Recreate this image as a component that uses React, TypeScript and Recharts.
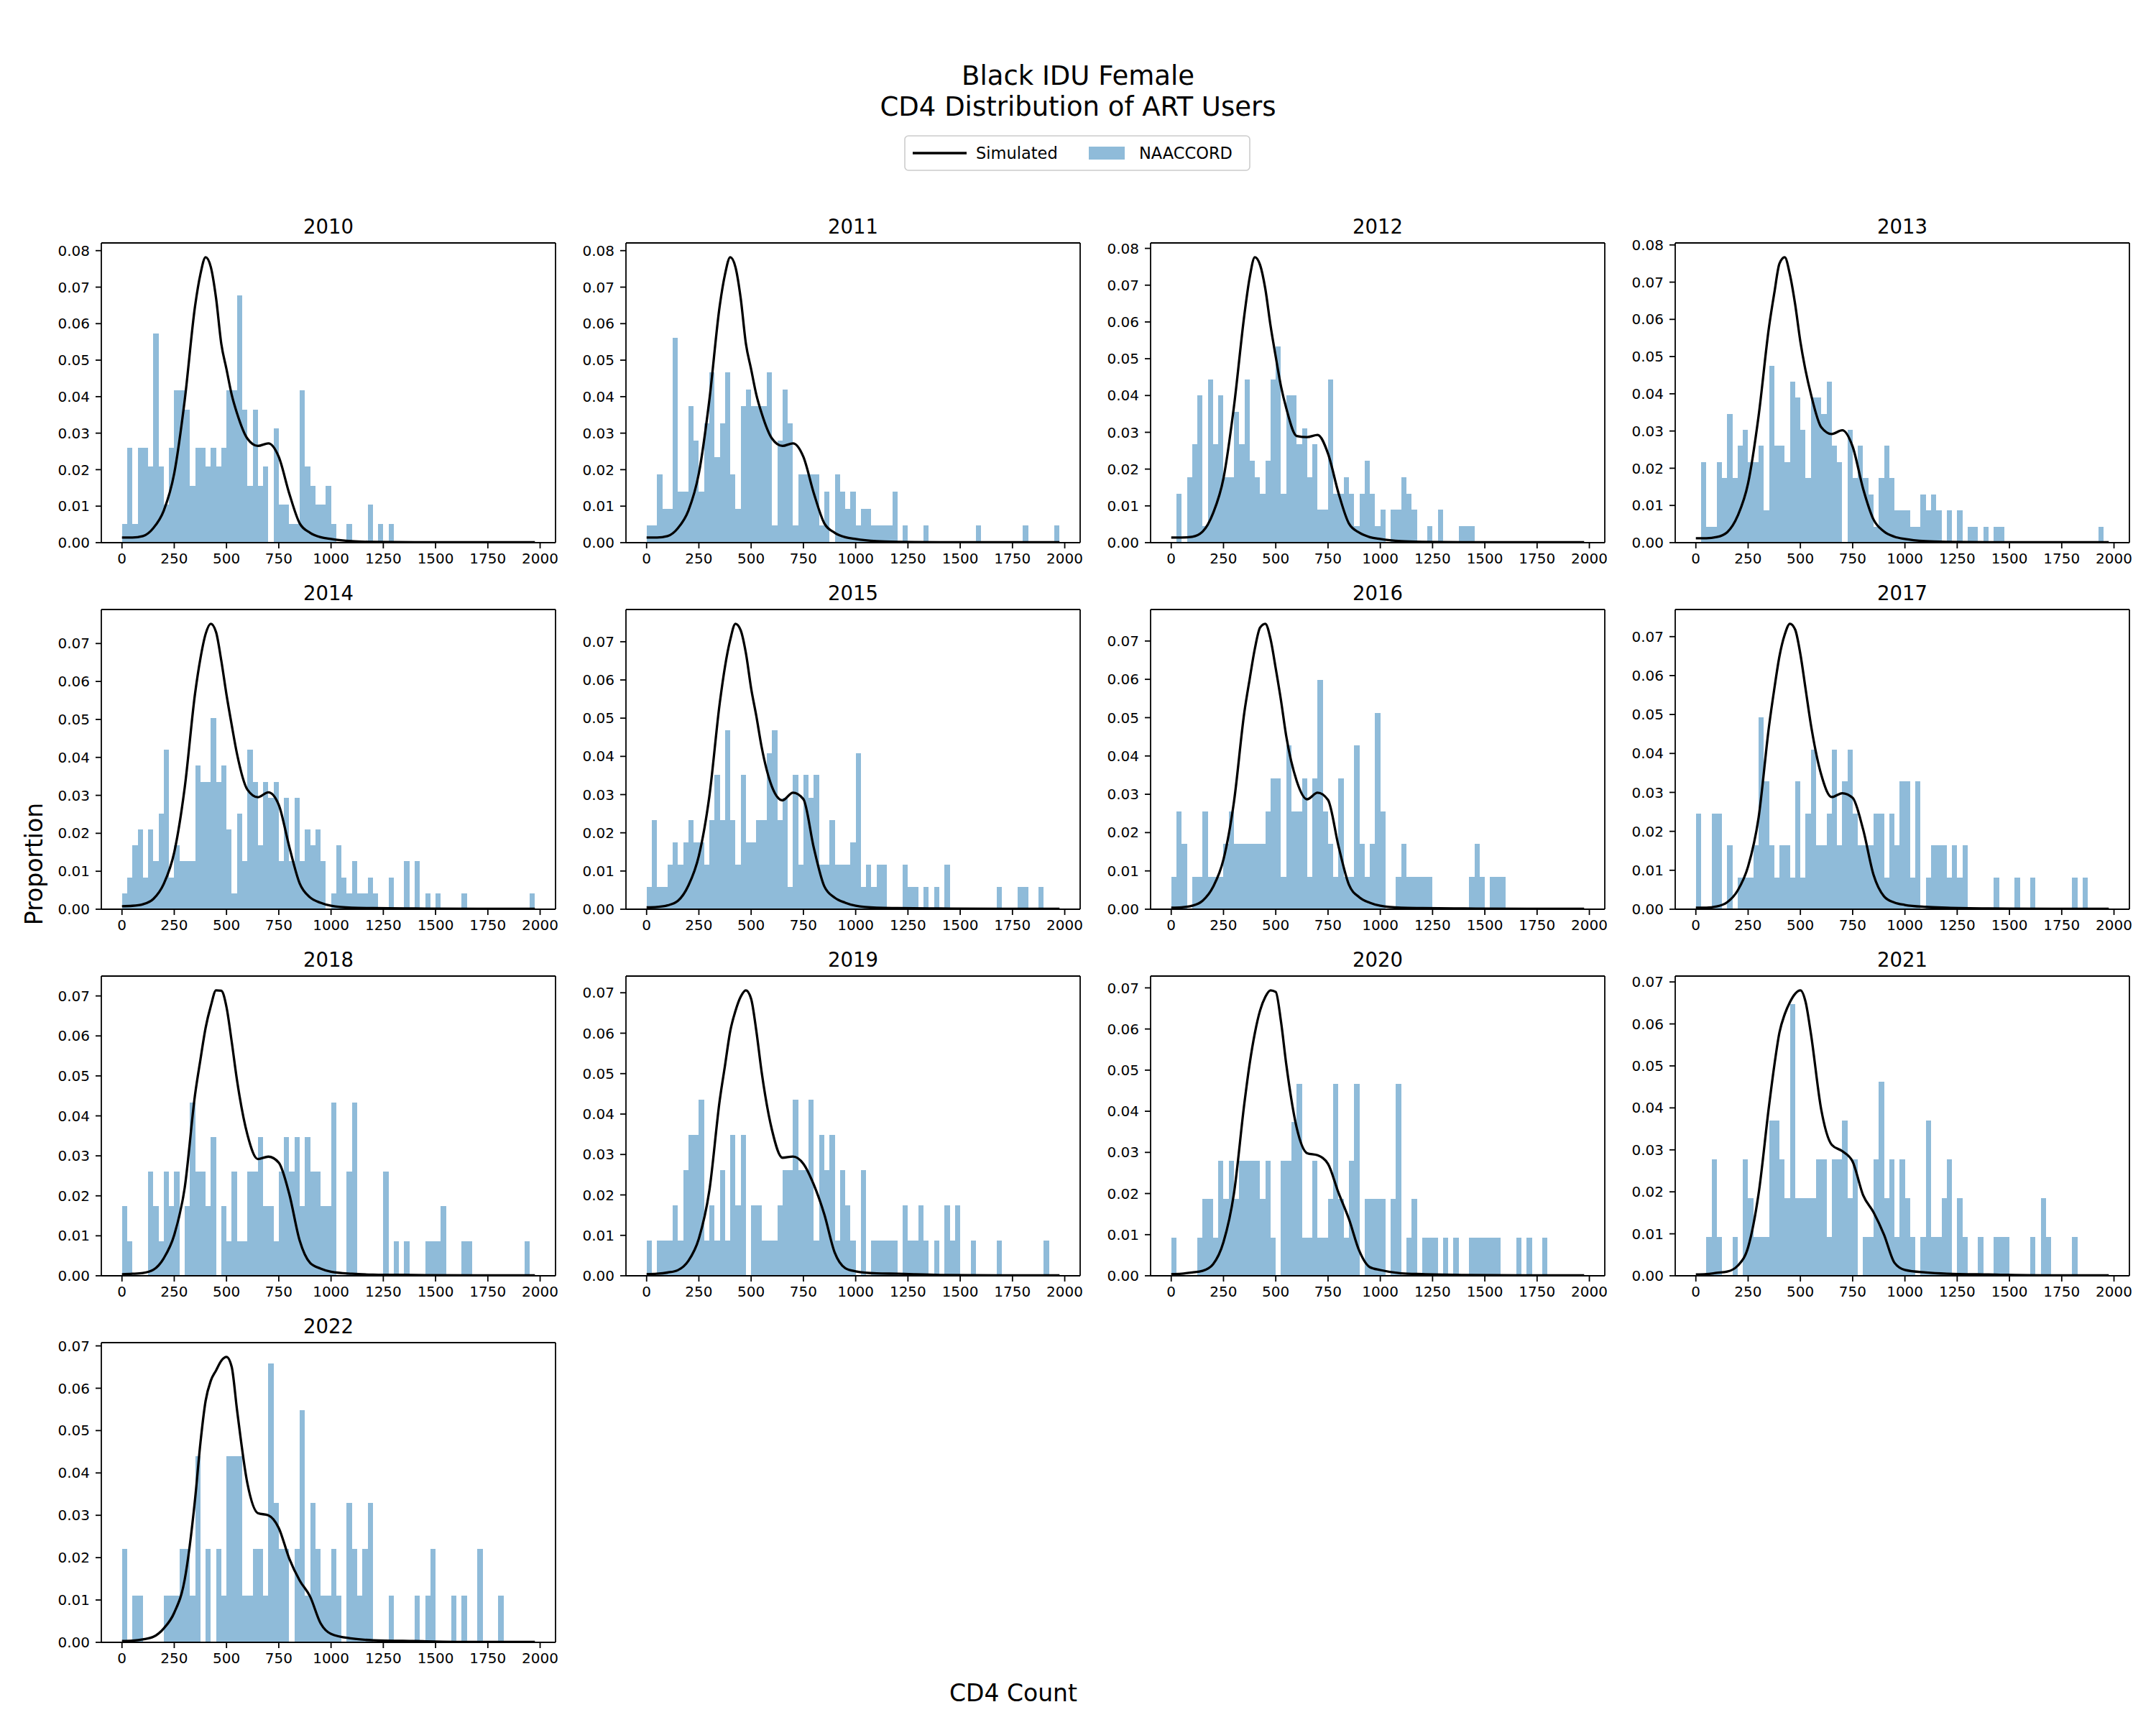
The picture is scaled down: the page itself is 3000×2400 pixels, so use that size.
import React from 'react';
import { ComposedChart, Bar, Line, XAxis, YAxis } from 'recharts';

const FONT = '"DejaVu Sans", sans-serif';
const BAR_COLOR = '#1f77b4';

const YEARS = ['2010', '2011', '2012', '2013', '2014', '2015', '2016', '2017', '2018', '2019', '2020', '2021', '2022'];

// histogram bins: 25 cells wide, 0..1975
const BIN_WIDTH = 25;
const BIN_CENTERS = Array.from({ length: 79 }, (_, i) => i * BIN_WIDTH + BIN_WIDTH / 2);
const X_TICKS = [0, 250, 500, 750, 1000, 1250, 1500, 1750, 2000];
const X_DOMAIN: [number, number] = [-98.75, 2073.75];

// CD4 values where the simulated curve is sampled
const SIM_X = [0, 50, 100, 150, 200, 250, 300, 350, 375, 400, 425, 450, 475, 500, 525, 550, 600, 650, 700, 750, 800, 850, 900, 950, 1000, 1100, 1200, 1400, 1700, 1975];

// NAACCORD observed proportions per bin
const NAACCORD_2010 = [
  .0052, .026, .0052, .026, .026, .0208, .0573, .0208, .0104, .026,
  .0417, .0417, .0365, .0156, .026, .026, .0208, .026, .0208, .026,
  .0417, .0417, .0677, .0365, .0156, .0365, .0156, .0208, 0, .0313,
  .0104, .0104, .0052, .0052, .0417, .0208, .0156, .0104, .0104, .0156,
  .0052, 0, 0, .0052, 0, 0, 0, .0104, 0, .0052,
  0, .0052, 0, 0, 0, 0, 0, 0, 0, 0,
  0, 0, 0, 0, 0, 0, 0, 0, 0, 0,
  0, 0, 0, 0, 0, 0, 0, 0, 0,
];
const NAACCORD_2011 = [
  .0047, .0047, .0187, .0093, .0093, .0561, .014, .014, .0374, .028,
  .014, .0327, .0467, .0234, .0327, .0467, .0187, .0093, .0374, .042,
  .0374, .0374, .0374, .0467, .0047, .028, .042, .0327, .0047, .0187,
  .0187, .0187, .0187, .0047, .014, 0, .0187, .014, .0093, .014,
  .0047, .0093, .0093, .0047, .0047, .0047, .0047, .014, 0, .0047,
  0, 0, 0, .0047, 0, 0, 0, 0, 0, 0,
  0, 0, 0, .0047, 0, 0, 0, 0, 0, 0,
  0, 0, .0047, 0, 0, 0, 0, 0, .0047,
];
const NAACCORD_2012 = [
  0, .0133, 0, .0178, .0267, .04, .0044, .0444, .0267, .04,
  .0178, .0178, .0356, .0267, .0444, .0222, .0178, .0133, .0222, .0444,
  .0533, .0133, .04, .04, .0267, .0311, .0178, .0267, .0089, .0089,
  .0444, .0133, .0133, .0178, .0133, .0044, .0133, .0222, .0133, .0044,
  .0089, 0, .0089, .0089, .0178, .0133, .0089, 0, 0, .0044,
  0, .0089, 0, 0, 0, .0044, .0044, .0044, 0, 0,
  0, 0, 0, 0, 0, 0, 0, 0, 0, 0,
  0, 0, 0, 0, 0, 0, 0, 0, 0,
];
const NAACCORD_2013 = [
  0, .0216, .0043, .0043, .0216, .0173, .0346, .0173, .026, .0303,
  .0216, .0216, .026, .0087, .0476, .026, .026, .0216, .0433, .039,
  .0303, .0173, .039, .039, .0346, .0433, .026, .0216, 0, .0303,
  .0173, .026, .0173, .013, .0043, .0173, .026, .0173, .0087, .0087,
  .0087, .0043, .0043, .013, .0087, .013, .0087, 0, .0087, 0,
  .0087, 0, .0043, .0043, 0, .0043, 0, .0043, .0043, 0,
  0, 0, 0, 0, 0, 0, 0, 0, 0, 0,
  0, 0, 0, 0, 0, 0, 0, .0043, 0,
];
const NAACCORD_2014 = [
  .0042, .0084, .0168, .021, .0084, .021, .0126, .0252, .042, .0084,
  .0168, .0126, .0126, .0126, .0378, .0336, .0336, .0504, .0336, .0378,
  .021, .0042, .0252, .0126, .042, .0336, .0168, .0336, .0294, .0336,
  .0126, .0294, .0126, .0294, .0126, .021, .0168, .021, .0126, 0,
  .0042, .0168, .0084, .0042, .0126, .0042, .0042, .0084, .0042, 0,
  0, .0084, 0, 0, .0126, 0, .0126, 0, .0042, 0,
  .0042, 0, 0, 0, 0, .0042, 0, 0, 0, 0,
  0, 0, 0, 0, 0, 0, 0, 0, .0042,
];
const NAACCORD_2015 = [
  .0058, .0234, .0058, .0058, .0117, .0175, .0117, .0175, .0234, .0175,
  .0175, .0117, .0234, .0351, .0234, .0468, .0234, .0117, .0351, .0175,
  .0175, .0234, .0234, .0409, .0468, .0234, .0292, .0058, .0351, .0117,
  .0351, .0292, .0351, .0117, .0117, .0234, .0117, .0117, .0117, .0175,
  .0409, .0058, .0117, .0058, .0117, .0117, 0, 0, 0, .0117,
  .0058, .0058, 0, .0058, 0, .0058, 0, .0117, 0, 0,
  0, 0, 0, 0, 0, 0, 0, .0058, 0, 0,
  0, .0058, .0058, 0, 0, .0058, 0, 0, 0,
];
const NAACCORD_2016 = [
  .0085, .0256, .0171, 0, .0085, .0085, .0256, .0085, .0085, .0085,
  .0171, .0256, .0171, .0171, .0171, .0171, .0171, .0171, .0256, .0342,
  .0342, .0085, .0427, .0256, .0256, .0342, .0085, .0342, .0598, .0256,
  .0171, .0085, .0342, .0085, .0085, .0427, .0171, .0085, .0171, .0513,
  .0256, 0, 0, .0085, .0171, .0085, .0085, .0085, .0085, .0085,
  0, 0, 0, 0, 0, 0, 0, .0085, .0171, .0085,
  0, .0085, .0085, .0085, 0, 0, 0, 0, 0, 0,
  0, 0, 0, 0, 0, 0, 0, 0, 0,
];
const NAACCORD_2017 = [
  .0246, 0, 0, .0246, .0246, 0, .0164, 0, .0082, .0082,
  .0082, .0164, .0492, .0328, .0164, .0082, .0164, .0164, .0082, .0328,
  .0082, .0246, .041, .0164, .0164, .0246, .041, .0164, .0328, .041,
  .0246, .0164, .0164, .0164, .0246, .0246, .0082, .0246, .0164, .0328,
  .0328, .0082, .0328, 0, .0082, .0164, .0164, .0164, .0082, .0164,
  .0082, .0164, 0, 0, 0, 0, 0, .0082, 0, 0,
  0, .0082, 0, 0, .0082, 0, 0, 0, 0, 0,
  0, 0, .0082, 0, .0082, 0, 0, 0, 0,
];
const NAACCORD_2018 = [
  .0174, .0087, 0, 0, 0, .026, .0174, .0087, .026, .0174,
  .026, 0, .0174, .0434, .026, .026, .0174, .0347, 0, .0174,
  .0087, .026, .0087, .0087, .026, .026, .0347, .0174, .0174, .0087,
  .026, .0347, .026, .0347, .0174, .0347, .026, .026, .0174, .0174,
  .0434, 0, 0, .026, .0434, 0, 0, 0, 0, 0,
  .026, 0, .0087, 0, .0087, 0, 0, 0, .0087, .0087,
  .0087, .0174, 0, 0, 0, .0087, .0087, 0, 0, 0,
  0, 0, 0, 0, 0, 0, 0, .0087, 0,
];
const NAACCORD_2019 = [
  .0087, 0, .0087, .0087, .0087, .0174, .0087, .0261, .0348, .0348,
  .0435, .0087, .0174, .0087, .0261, .0087, .0348, .0174, .0348, 0,
  .0174, .0174, .0087, .0087, .0087, .0174, .0261, .0261, .0435, .0261,
  .0261, .0435, .0087, .0348, .0261, .0348, .0087, .0261, .0174, .0087,
  0, .0261, 0, .0087, .0087, .0087, .0087, .0087, 0, .0174,
  .0087, .0087, .0174, .0087, 0, .0087, 0, .0174, .0087, .0174,
  0, 0, .0087, 0, 0, 0, 0, .0087, 0, 0,
  0, 0, 0, 0, 0, 0, .0087, 0, 0,
];
const NAACCORD_2020 = [
  .0093, 0, 0, 0, 0, .0093, .0187, .0187, .0093, .028,
  .0187, .028, .0187, .028, .028, .028, .028, .0187, .028, .0093,
  0, .028, .028, .0374, .0467, .0093, .0093, .028, .0093, .0093,
  .0187, .0467, .0187, .0093, .028, .0467, 0, .0187, .0187, .0187,
  .0187, 0, .0187, .0467, 0, .0093, .0187, 0, .0093, .0093,
  .0093, 0, .0093, 0, .0093, 0, 0, .0093, .0093, .0093,
  .0093, .0093, .0093, 0, 0, 0, .0093, 0, .0093, 0,
  0, .0093, 0, 0, 0, 0, 0, 0, 0,
];
const NAACCORD_2021 = [
  0, 0, .0093, .0278, .0093, 0, 0, .0093, 0, .0278,
  .0185, .0093, .0093, .0093, .037, .037, .0278, .0185, .0648, .0185,
  .0185, .0185, .0185, .0278, .0278, .0093, .0278, .0278, .037, .0185,
  .0278, 0, .0093, .0093, .0278, .0463, .0185, .0278, .0093, .0278,
  .0185, .0093, 0, .0093, .037, .0093, .0093, .0185, .0278, 0,
  .0185, .0093, 0, 0, .0093, 0, 0, .0093, .0093, .0093,
  0, 0, 0, 0, .0093, 0, .0185, .0093, 0, 0,
  0, 0, .0093, 0, 0, 0, 0, 0, 0,
];
const NAACCORD_2022 = [
  .022, 0, .011, .011, 0, 0, 0, 0, .011, .011,
  .011, .022, .022, .011, .044, 0, .022, 0, .022, .011,
  .044, .044, .044, .011, .011, .022, .022, .011, .0659, .033,
  .022, .022, 0, .022, .0549, .011, .033, .022, .011, .011,
  .022, .011, 0, .033, .022, .011, .022, .033, 0, 0,
  0, .011, 0, 0, 0, 0, .011, 0, .011, .022,
  0, 0, 0, .011, 0, .011, 0, 0, .022, 0,
  0, 0, .011, 0, 0, 0, 0, 0, 0,
];

// simulated CD4 distribution, one value per SIM_X point
const SIM_2010 = [.0014, .0014, .0018, .004, .0088, .019, .039, .065, .0735, .0782, .0755, .067, .0545, .0475, .0405, .0355, .0285, .0265, .0272, .0235, .0135, .0053, .0027, .0015, .001, .0004, .0002, .0001, .0001, .0001];
const SIM_2011 = [.0014, .0014, .0018, .004, .0088, .019, .039, .065, .0735, .0782, .0755, .067, .0545, .0475, .0405, .0355, .0285, .0265, .0272, .0235, .0135, .0053, .0027, .0015, .001, .0004, .0002, .0001, .0001, .0001];
const SIM_2012 = [.0014, .0014, .0016, .003, .008, .0175, .037, .062, .072, .0776, .0755, .069, .059, .0505, .0425, .0366, .029, .0287, .0293, .0242, .0135, .0052, .0027, .0015, .001, .0004, .0002, .0001, .0001, .0001];
const SIM_2013 = [.0012, .0012, .0015, .0028, .0072, .016, .034, .058, .067, .075, .0767, .072, .064, .054, .0462, .04, .031, .0292, .0302, .0258, .0145, .0062, .003, .0016, .001, .0004, .0002, .0001, .0001, .0001];
const SIM_2014 = [.0008, .0009, .0013, .0027, .0067, .015, .032, .057, .066, .0725, .0752, .073, .0655, .0565, .0485, .041, .0315, .0295, .0308, .0275, .0165, .0068, .0031, .0017, .0009, .0004, .0003, .0002, .0001, .0001];
const SIM_2015 = [.0005, .0006, .001, .0022, .0062, .014, .0295, .054, .0635, .0705, .0747, .073, .067, .0578, .0505, .0425, .032, .0285, .0305, .0288, .016, .006, .003, .0017, .0009, .0004, .0003, .0002, .0001, .0001];
const SIM_2016 = [.0004, .0005, .0009, .0022, .0058, .013, .028, .0515, .06, .068, .0735, .0745, .0705, .0628, .0545, .0452, .0335, .0287, .0304, .0285, .0165, .0064, .0031, .0017, .0009, .0004, .0003, .0002, .0001, .0001];
const SIM_2017 = [.0004, .0004, .0007, .0018, .0048, .011, .0235, .047, .0565, .065, .0705, .0733, .0718, .0655, .0565, .0475, .0345, .0288, .0298, .0286, .0205, .0088, .0033, .0017, .0011, .0006, .0004, .0002, .0001, .0001];
const SIM_2018 = [.0004, .0005, .0007, .0015, .0044, .0102, .022, .0455, .054, .062, .0675, .0714, .0713, .0672, .0585, .049, .0353, .0292, .0298, .0283, .0205, .0088, .0032, .0018, .001, .0005, .0003, .0002, .0001, .0001];
const SIM_2019 = [.0004, .0005, .0008, .0014, .0037, .0092, .021, .0435, .052, .0605, .0655, .069, .0706, .0685, .0605, .0505, .036, .0292, .0295, .0277, .0225, .0152, .0057, .0019, .0011, .0006, .0005, .0002, .0001, .0001];
const SIM_2020 = [.0004, .0005, .0008, .0012, .0028, .0082, .02, .042, .0515, .059, .0645, .0678, .0694, .069, .0618, .0515, .036, .0298, .0293, .0272, .0202, .0138, .006, .0021, .0014, .0006, .0004, .0002, .0001, .0001];
const SIM_2021 = [.0003, .0004, .0007, .001, .0024, .0068, .0195, .0405, .05, .058, .0623, .0652, .0672, .068, .0652, .0578, .0395, .0312, .0297, .0272, .0192, .0151, .0098, .0031, .0014, .0008, .0005, .0003, .0001, .0001];
const SIM_2022 = [.0003, .0004, .0007, .0013, .0033, .007, .0148, .034, .047, .057, .0618, .0642, .0665, .0674, .065, .055, .0375, .0305, .03, .027, .0198, .0146, .0108, .0045, .002, .0009, .0005, .0003, .0001, .0001];

const OBSERVED = [NAACCORD_2010, NAACCORD_2011, NAACCORD_2012, NAACCORD_2013, NAACCORD_2014, NAACCORD_2015, NAACCORD_2016, NAACCORD_2017, NAACCORD_2018, NAACCORD_2019, NAACCORD_2020, NAACCORD_2021, NAACCORD_2022];
const SIMULATED = [SIM_2010, SIM_2011, SIM_2012, SIM_2013, SIM_2014, SIM_2015, SIM_2016, SIM_2017, SIM_2018, SIM_2019, SIM_2020, SIM_2021, SIM_2022];

// grid geometry (page pixels)
const COL_X = [141, 871, 1601, 2331];
const ROW_Y = [338, 848, 1358, 1868];
const PLOT_W = 632;
const PLOT_H = 417;
const Y_AXIS_W = 100;
const TOP_PAD = 40;
const RIGHT_PAD = 4;
const X_AXIS_H = 44;
const SPINE = 1.8;

const BAR_PX = (BIN_WIDTH * PLOT_W) / (X_DOMAIN[1] - X_DOMAIN[0]) - 0.01;

const tickStyle = { fontSize: 20, fill: '#000', fontFamily: FONT };
const spineStyle = { stroke: '#000', strokeWidth: SPINE };

// pixel-snapped bars so neighbouring bins meet without seams
function HistBar(props: any) {
  const { x, y, width, height } = props;
  if (!height || height <= 0) return <g />;
  return (
    <rect
      x={x}
      y={y}
      width={width}
      height={height}
      fill={BAR_COLOR}
      fillOpacity={0.5}
      shapeRendering="crispEdges"
    />
  );
}

function Panel({ hist, sim, left, top }: { hist: number[]; sim: number[]; left: number; top: number }) {
  const rows = BIN_CENTERS.map((x, i) => ({ x, p: hist[i] }));
  const simRows = SIM_X.map((x, i) => ({ x, y: sim[i] }));
  const yMax = Math.max(...hist, ...sim) * 1.05;
  const yTicks: number[] = [];
  for (let i = 0; i * 0.01 <= yMax + 1e-9; i++) yTicks.push(Number((i * 0.01).toFixed(2)));

  return (
    <div style={{ position: 'absolute', left: left - Y_AXIS_W, top: top - TOP_PAD }}>
      <ComposedChart
        width={Y_AXIS_W + PLOT_W + 1 + RIGHT_PAD}
        height={TOP_PAD + PLOT_H + X_AXIS_H}
        data={rows}
        margin={{ top: TOP_PAD - 1, right: RIGHT_PAD, bottom: 0, left: 0 }}
        barCategoryGap={0}
        barGap={0}
      >
        <XAxis
          xAxisId="hist"
          dataKey="x"
          type="number"
          domain={X_DOMAIN}
          allowDataOverflow
          ticks={X_TICKS}
          interval={0}
          height={X_AXIS_H}
          tick={tickStyle}
          tickSize={8}
          tickMargin={7}
          axisLine={spineStyle}
          tickLine={spineStyle}
        />
        <XAxis
          xAxisId="sim"
          dataKey="x"
          type="number"
          domain={X_DOMAIN}
          allowDataOverflow
          orientation="top"
          height={1}
          tick={false}
          tickLine={false}
          axisLine={spineStyle}
        />
        <YAxis
          yAxisId="left"
          type="number"
          domain={[0, yMax]}
          allowDataOverflow
          ticks={yTicks}
          interval={0}
          width={Y_AXIS_W}
          tickFormatter={(v: number) => v.toFixed(2)}
          tick={tickStyle}
          tickSize={8}
          tickMargin={8}
          axisLine={spineStyle}
          tickLine={spineStyle}
        />
        <YAxis
          yAxisId="right"
          orientation="right"
          type="number"
          domain={[0, yMax]}
          allowDataOverflow
          width={1}
          tick={false}
          tickLine={false}
          axisLine={spineStyle}
        />
        <Bar
          xAxisId="hist"
          yAxisId="left"
          dataKey="p"
          barSize={BAR_PX}
          fill={BAR_COLOR}
          fillOpacity={0.5}
          shape={HistBar}
          isAnimationActive={false}
        />
        <Line
          xAxisId="sim"
          yAxisId="right"
          data={simRows}
          dataKey="y"
          type="monotone"
          stroke="#000"
          strokeWidth={3.3}
          dot={false}
          activeDot={false}
          isAnimationActive={false}
        />
      </ComposedChart>
    </div>
  );
}

export default function App() {
  return (
    <div
      style={{
        position: 'absolute',
        left: 0,
        top: 0,
        width: 3000,
        height: 2400,
        background: '#fff',
        fontFamily: FONT,
        overflow: 'hidden',
      }}
    >
      {YEARS.map((year, i) => (
        <Panel
          key={year}
          hist={OBSERVED[i]}
          sim={SIMULATED[i]}
          left={COL_X[i % 4]}
          top={ROW_Y[Math.floor(i / 4)]}
        />
      ))}
      <svg
        width={3000}
        height={2400}
        style={{ position: 'absolute', left: 0, top: 0, pointerEvents: 'none' }}
        fontFamily={FONT}
      >
        <text x={1500} y={118} textAnchor="middle" fontSize={37} fill="#000">
          Black IDU Female
        </text>
        <text x={1500} y={161} textAnchor="middle" fontSize={37} fill="#000">
          CD4 Distribution of ART Users
        </text>

        {/* figure legend */}
        <rect x={1259} y={189} width={480} height={48} rx={5} fill="#fff" fillOpacity={0.8} stroke="#ccc" strokeWidth={1.6} />
        <line x1={1270} y1={213} x2={1345} y2={213} stroke="#000" strokeWidth={3.3} />
        <text x={1358} y={221} fontSize={22.5} fill="#000">
          Simulated
        </text>
        <rect x={1515} y={204} width={50} height={18} fill={BAR_COLOR} fillOpacity={0.5} />
        <text x={1585} y={221} fontSize={22.5} fill="#000">
          NAACCORD
        </text>

        {YEARS.map((year, i) => (
          <text
            key={year}
            x={COL_X[i % 4] + PLOT_W / 2}
            y={ROW_Y[Math.floor(i / 4)] - 13}
            textAnchor="middle"
            fontSize={27.5}
            fill="#000"
          >
            {year}
          </text>
        ))}

        <text x={1410} y={2367} textAnchor="middle" fontSize={33} fill="#000">
          CD4 Count
        </text>
        <text transform="translate(59,1202) rotate(-90)" textAnchor="middle" fontSize={33} fill="#000">
          Proportion
        </text>
      </svg>
    </div>
  );
}
